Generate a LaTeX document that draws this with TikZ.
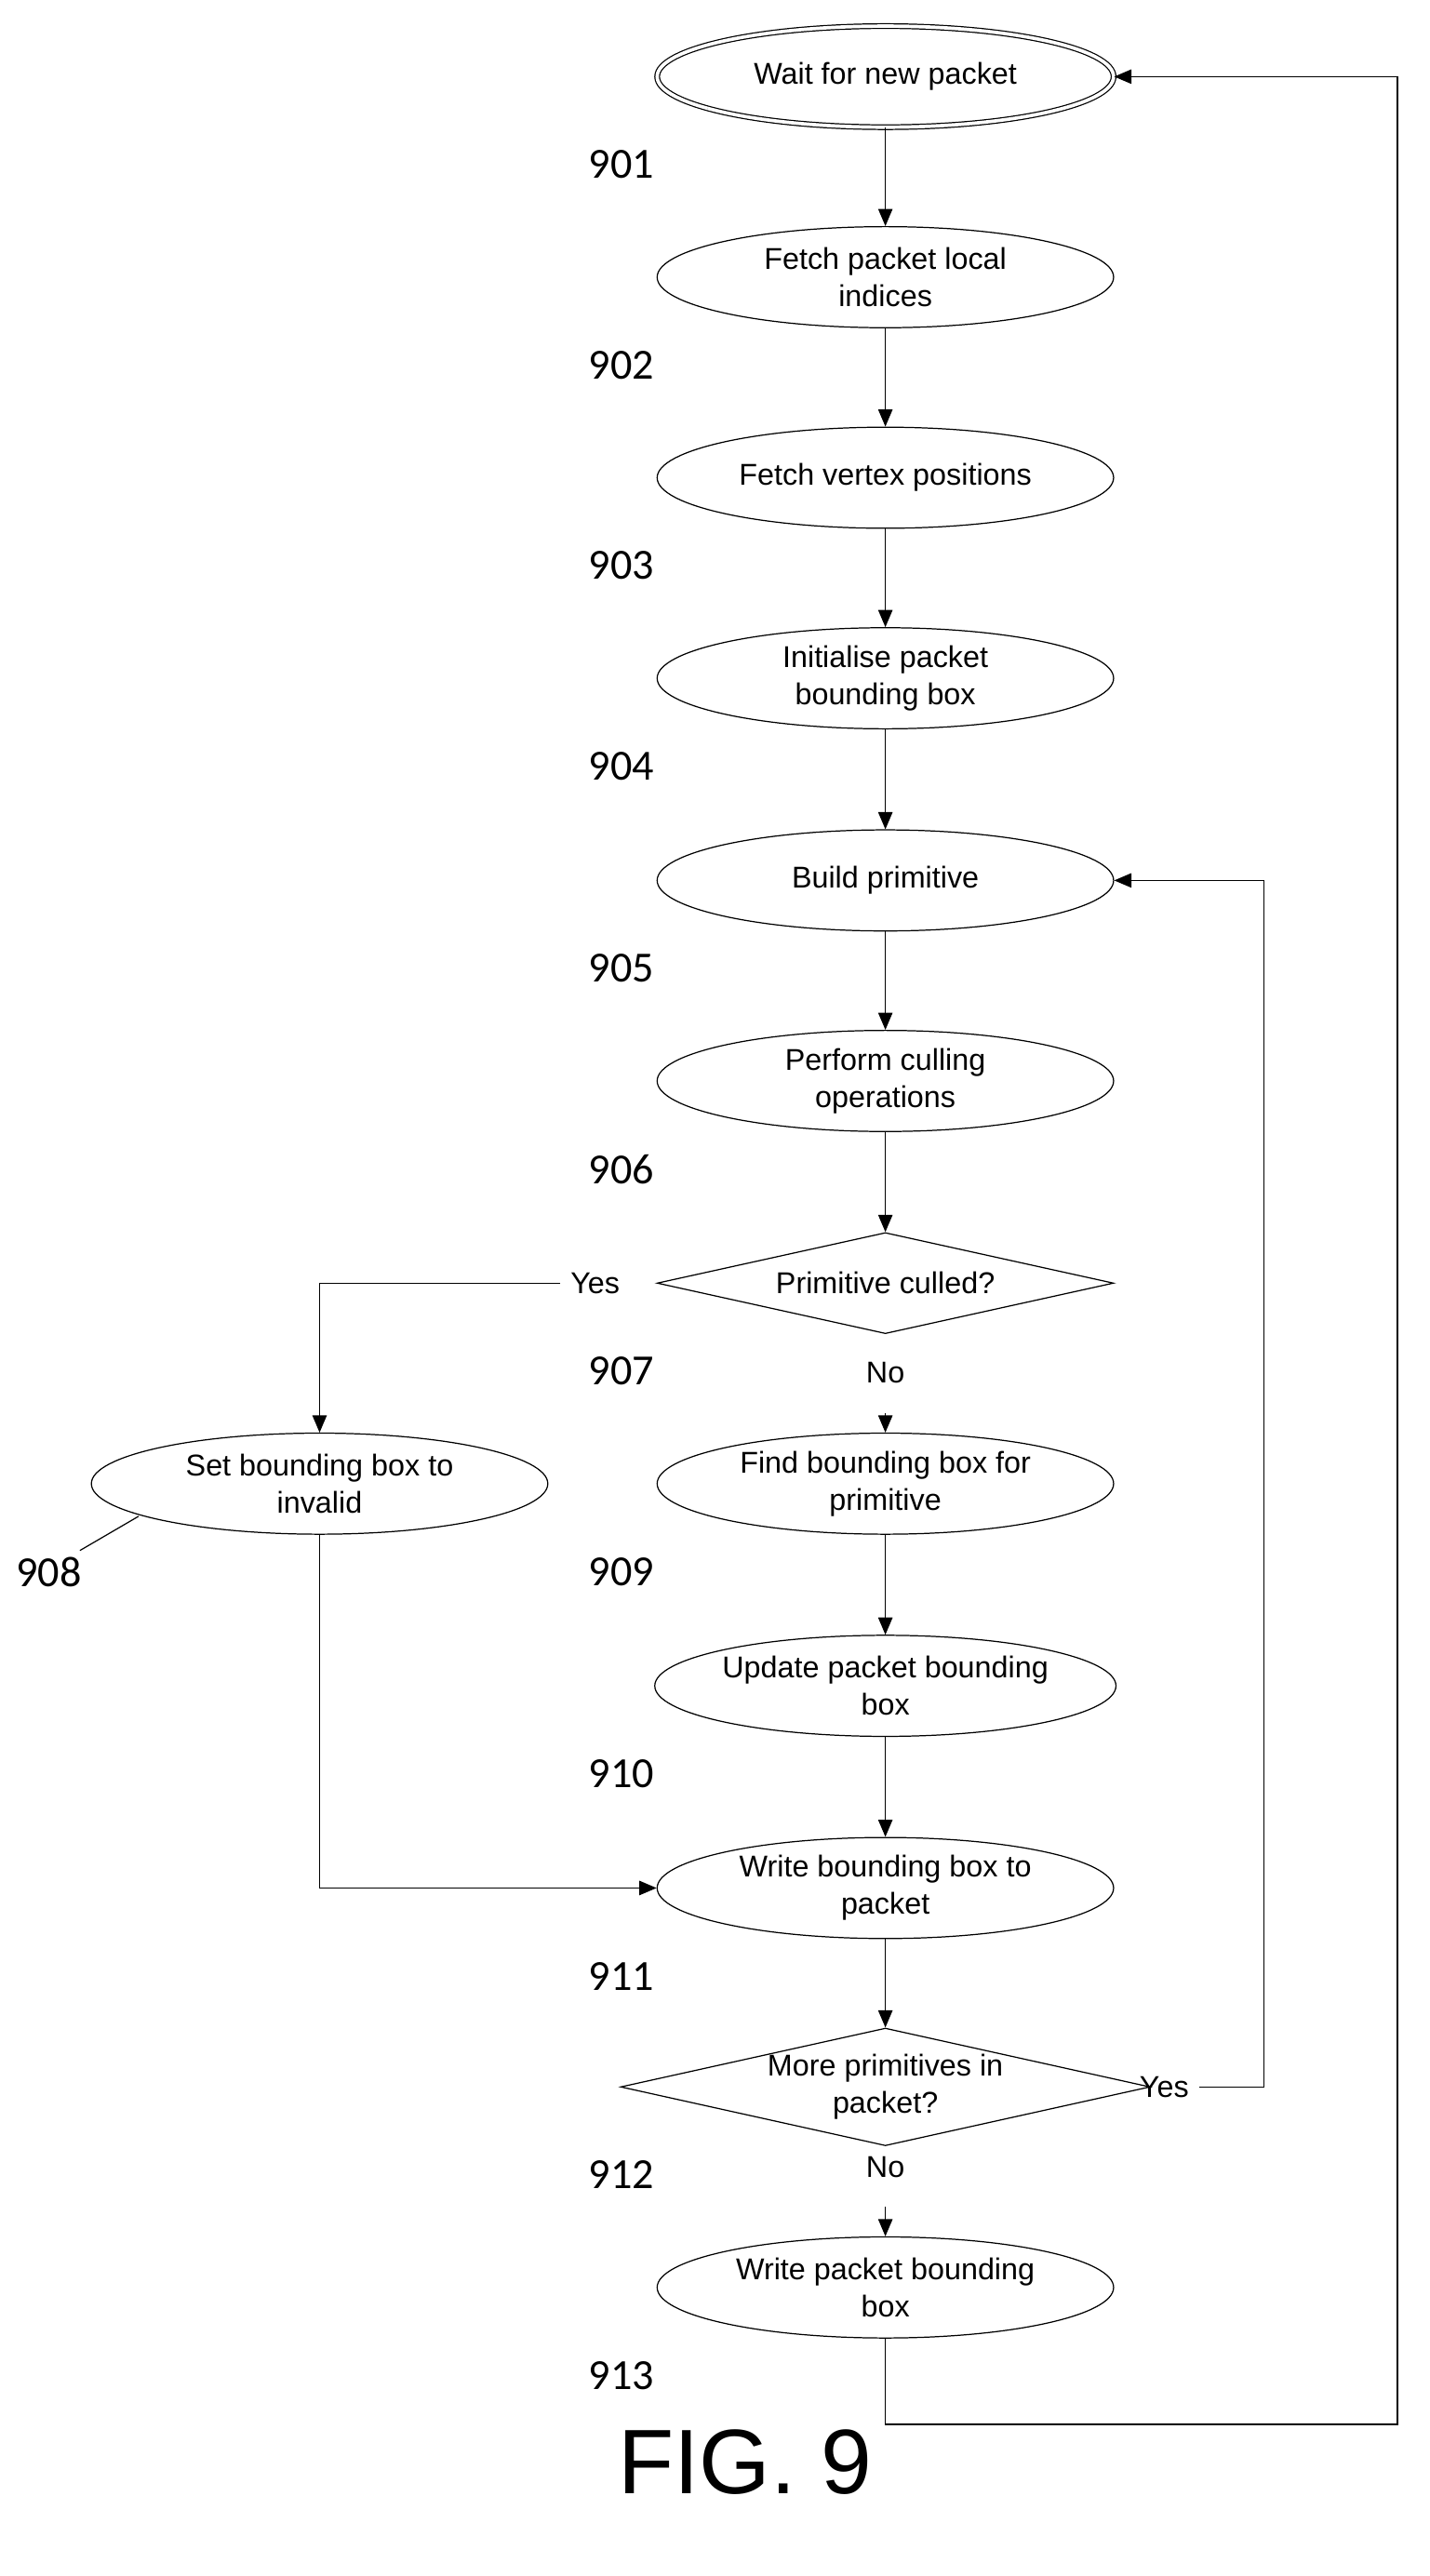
\documentclass[tikz,border=0pt]{standalone}
\usepackage{fontspec}
\setmainfont{Liberation Sans}
\newfontfamily\numfont{Carlito}
\usetikzlibrary{shapes.geometric,arrows.meta}

\begin{document}
\begin{tikzpicture}[
        x=0.02cm, y=-0.02cm,
        proc/.style={ellipse, draw, thin, minimum width=5.6cm, minimum height=1.24cm, inner sep=0pt, align=center, font=\fontsize{10.5}{13}\selectfont},
        start/.style={proc, double, double distance=1.2pt},
        test/.style={diamond, draw, thin, aspect=4.5, minimum width=5.6cm, minimum height=1.24cm, inner sep=0pt, align=center, font=\fontsize{10.5}{13}\selectfont},
        tag/.style={font=\numfont\fontsize{15}{18}\selectfont},
        arrow/.style={-{Triangle[length=6pt,width=5pt]}, thin},
        lead/.style={thin}
    ]
        \useasboundingbox (0,0) rectangle (877,1580);

        % ========== MAIN COLUMN ==========
        \node[start] (wait) at (543,47) {Wait for new packet};
        \node[proc] (fetchIdx) at (543,170) {Fetch packet local\\indices};
        \node[proc] (fetchPos) at (543,293) {Fetch vertex positions};
        \node[proc] (initBox) at (543,416) {Initialise packet\\bounding box};
        \node[proc] (build) at (543,540) {Build primitive};
        \node[proc] (cull) at (543,663) {Perform culling\\operations};
        \node[test] (culled) at (543,787) {Primitive culled?};
        \node[proc] (invalid) at (196,910) {Set bounding box to\\invalid};
        \node[proc] (findBox) at (543,910) {Find bounding box for\\primitive};
        \node[proc] (updBox) at (543,1034) {Update packet bounding\\box};
        \node[proc] (writeBox) at (543,1158) {Write bounding box to\\packet};
        \node[test] (more) at (543,1280) {More primitives in\\packet?};
        \node[proc] (writePkt) at (543,1403) {Write packet bounding\\box};

        % ========== ARROWS ==========
        \draw[arrow] (wait) -- (fetchIdx);
        \draw[arrow] (fetchIdx) -- (fetchPos);
        \draw[arrow] (fetchPos) -- (initBox);
        \draw[arrow] (initBox) -- (build);
        \draw[arrow] (build) -- (cull);
        \draw[arrow] (cull) -- (culled);
        \node[font=\fontsize{10.5}{13}\selectfont] (noA) at (543,842) {No};
        \draw[arrow] (noA.south) ++(0,12) -- (findBox.north);
        \draw[arrow] (findBox) -- (updBox);
        \draw[arrow] (updBox) -- (writeBox);
        \draw[arrow] (writeBox) -- (more);
        \node[font=\fontsize{10.5}{13}\selectfont] (noB) at (543,1329) {No};
        \draw[arrow] (noB.south) ++(0,12) -- (writePkt.north);

        \node[font=\fontsize{10.5}{13}\selectfont] (yesA) at (365,787) {Yes};
        \draw[arrow] (yesA.west) -| (invalid.north);
        \draw[arrow] (invalid.south) |- (writeBox.west);
        \node[font=\fontsize{10.5}{13}\selectfont] (yesB) at (714,1280) {Yes};
        \draw[arrow] (yesB.east) -| (775,540) -- (build.east);
        \draw[arrow] (writePkt.south) |- (857,1487) |- (wait.east);

        % ========== REFERENCE NUMERALS ==========
        \foreach \n/\y in {wait/901, fetchIdx/902, fetchPos/903, initBox/904, build/905, cull/906, culled/907, findBox/909, updBox/910, writeBox/911, more/912, writePkt/913} {
            \node[tag] (t\y) at ([shift={(-162,54)}]\n) {\y};
            \draw[lead] ([shift={(-111,20)}]\n) -- ([shift={(-145,41)}]\n);
        }
        \node[tag] (t908) at (30,964) {908};
        \draw[lead] (85,930) -- (49,951);

        \node[font=\fontsize{32}{36}\selectfont] (fig) at (457,1510) {FIG. 9};
    \end{tikzpicture}
\end{document}
